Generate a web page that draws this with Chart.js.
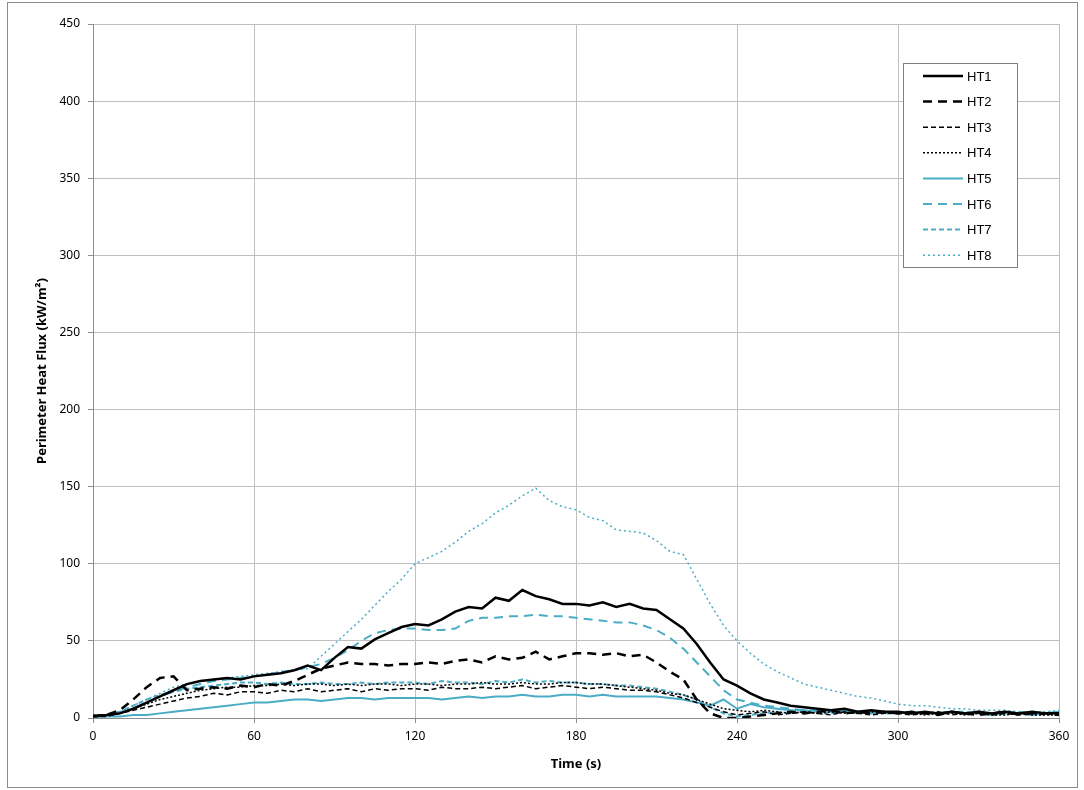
<!DOCTYPE html>
<html lang="en">
<head>
    <meta charset="UTF-8">
    <title>Perimeter Heat Flux</title>
</head>
<body style="margin: 0 0 0 0; background: #fff;">
    <div style="width:1084px; height:790px;">
        <canvas id="myChart" width="1084" height="790"></canvas>
    </div>

    <script src="https://cdn.jsdelivr.net/npm/chart.js@4.4.0/dist/chart.umd.min.js"></script>
    <script>
        // time axis, one reading every 5 s
        const times = [];
        for (let t = 0; t <= 360; t += 5) times.push(t);

        const ht1 = [1.5, 2, 3, 6, 10, 14, 18, 22, 24, 25, 26, 25,
            27, 28, 29, 31, 34, 31, 39, 46, 45, 51, 55, 59,
            61, 60, 64, 69, 72, 71, 78, 76, 83, 79, 77, 74,
            74, 73, 75, 72, 74, 71, 70, 64, 58, 48, 36, 25,
            21, 16, 12, 10, 8, 7, 6, 5, 6, 4, 5, 4,
            4, 3, 4, 3, 4, 3, 4, 3, 4, 3, 4, 3,
            3];
        const ht2 = [1, 2, 5, 12, 20, 26, 27, 18, 19, 20, 19, 21,
            20, 22, 21, 24, 28, 32, 34, 36, 35, 35, 34, 35,
            35, 36, 35, 37, 38, 36, 40, 38, 39, 43, 38, 40,
            42, 42, 41, 42, 40, 41, 36, 30, 25, 12, 3, 0,
            0, 1, 2, 3, 4, 3, 4, 5, 3, 4, 3, 4,
            3, 4, 3, 2, 4, 3, 2, 3, 4, 2, 3, 3,
            2];
        const ht3 = [1, 1, 3, 5, 7, 9, 11, 13, 14, 16, 15, 17,
            17, 16, 18, 17, 19, 17, 18, 19, 17, 19, 18, 19,
            19, 18, 20, 19, 19, 20, 19, 20, 21, 19, 20, 21,
            20, 19, 20, 19, 18, 18, 17, 15, 13, 10, 7, 4,
            2, 3, 4, 2, 3, 4, 3, 2, 4, 3, 2, 3,
            3, 2, 3, 4, 2, 3, 3, 2, 3, 2, 3, 2,
            3];
        const ht4 = [1, 2, 3, 6, 9, 12, 14, 16, 18, 19, 20, 20,
            21, 21, 22, 21, 22, 22, 21, 22, 21, 22, 22, 21,
            22, 22, 21, 22, 22, 23, 22, 22, 23, 22, 22, 23,
            23, 22, 22, 21, 20, 19, 18, 16, 15, 12, 9, 6,
            5, 4, 5, 4, 3, 4, 3, 4, 3, 3, 4, 3,
            3, 3, 2, 3, 3, 2, 3, 2, 2, 3, 2, 2,
            2];
        const ht5 = [1, 1, 1, 2, 2, 3, 4, 5, 6, 7, 8, 9,
            10, 10, 11, 12, 12, 11, 12, 13, 13, 12, 13, 13,
            13, 13, 12, 13, 14, 13, 14, 14, 15, 14, 14, 15,
            15, 14, 15, 14, 14, 14, 14, 13, 12, 10, 8, 12,
            6, 9, 7, 6, 5, 5, 4, 5, 4, 4, 3, 4,
            3, 4, 3, 3, 4, 3, 3, 2, 3, 3, 2, 3,
            4];
        const ht6 = [1, 1, 3, 6, 10, 14, 17, 20, 22, 24, 25, 26,
            27, 28, 30, 31, 33, 35, 39, 44, 50, 55, 57, 58,
            58, 57, 57, 58, 63, 65, 65, 66, 66, 67, 66, 66,
            65, 64, 63, 62, 62, 60, 57, 52, 45, 36, 27, 18,
            12, 10, 8, 7, 6, 5, 5, 4, 5, 4, 4, 3,
            3, 4, 3, 3, 4, 3, 4, 3, 3, 4, 3, 3,
            4];
        const ht7 = [1, 2, 4, 8, 12, 15, 17, 19, 20, 21, 22, 23,
            23, 22, 23, 22, 22, 23, 22, 22, 23, 22, 23, 23,
            23, 22, 24, 23, 23, 22, 24, 23, 25, 23, 24, 23,
            23, 22, 22, 21, 21, 20, 19, 17, 15, 12, 7, 3,
            1, 2, 3, 4, 3, 4, 4, 3, 4, 3, 4, 3,
            3, 4, 3, 3, 4, 4, 3, 3, 4, 3, 4, 3,
            3];
        const ht8 = [2, 2, 4, 8, 12, 16, 20, 22, 24, 25, 26, 27,
            28, 29, 30, 31, 32, 40, 48, 56, 64, 73, 82, 90,
            100, 104, 108, 114, 121, 126, 133, 138, 144, 149, 141, 137,
            135, 130, 128, 122, 121, 120, 115, 108, 106, 90, 74, 60,
            50, 42, 35, 30, 26, 22, 20, 18, 16, 14, 13, 11,
            9, 8, 8, 7, 6, 6, 5, 5, 5, 4, 4, 4,
            5];

        const xTicks = [0, 60, 120, 180, 240, 300, 360];
        const yMax = 450;

        const cyan = '#4BACC6';

        function pts(arr) {
            return arr.map((v, i) => ({ x: times[i], y: v }));
        }

        function ds(label, arr, color, width, dash) {
            return {
                label: label,
                data: pts(arr),
                borderColor: color,
                backgroundColor: color,
                borderWidth: width,
                borderDash: dash,
                pointRadius: 0,
                tension: 0,
                fill: false
            };
        }

        const datasets = [
            ds('HT1', ht1, '#000000', 2.5, []),
            ds('HT2', ht2, '#000000', 2.5, [9, 6]),
            ds('HT3', ht3, '#000000', 1.5, [5, 3]),
            ds('HT4', ht4, '#000000', 1.5, [2, 2]),
            ds('HT5', ht5, cyan, 2, []),
            ds('HT6', ht6, cyan, 2, [9, 6]),
            ds('HT7', ht7, cyan, 2, [5, 3]),
            ds('HT8', ht8, cyan, 1.5, [2, 3])
        ];

        // legend box inside the plot, plus the outer frame
        const boxLegend = {
            id: 'boxLegend',
            beforeDraw(chart) {
                const ctx = chart.ctx;
                ctx.save();
                ctx.strokeStyle = '#8c8c8c';
                ctx.lineWidth = 1;
                ctx.strokeRect(7.5, 2.5, 1070, 785);
                ctx.restore();
            },
            afterDraw(chart) {
                const ctx = chart.ctx;
                ctx.save();
                ctx.fillStyle = '#fff';
                ctx.fillRect(903, 63, 114, 204);
                ctx.strokeStyle = '#7f7f7f';
                ctx.lineWidth = 1;
                ctx.strokeRect(903.5, 63.5, 114, 204);
                ctx.font = '13px "Liberation Sans", Arial, sans-serif';
                ctx.textBaseline = 'middle';
                chart.data.datasets.forEach((d, i) => {
                    const y = 76 + i * 25.6;
                    ctx.beginPath();
                    ctx.setLineDash(d.borderDash);
                    ctx.strokeStyle = d.borderColor;
                    ctx.lineWidth = d.borderWidth;
                    ctx.moveTo(923, y);
                    ctx.lineTo(963, y);
                    ctx.stroke();
                    ctx.setLineDash([]);
                    ctx.fillStyle = '#000';
                    ctx.fillText(d.label, 967, y + 1);
                });
                ctx.restore();
            }
        };

        const config = {
            type: 'line',
            data: { datasets: datasets },
            options: {
                responsive: false,
                animation: false,
                layout: { padding: { top: 24, right: 25, bottom: 14, left: 30 } },
                plugins: {
                    legend: { display: false },
                    tooltip: { enabled: false }
                },
                scales: {
                    x: {
                        type: 'linear',
                        min: 0,
                        max: 360,
                        afterBuildTicks: (s) => { s.ticks = xTicks.map(v => ({ value: v })); },
                        afterFit: (s) => { s.height = 58; },
                        grid: { color: '#bfbfbf', lineWidth: 1, tickLength: 5, tickColor: '#8c8c8c' },
                        border: { color: '#8c8c8c' },
                        ticks: { color: '#000', font: { family: 'Noto Sans', size: 12 }, padding: 6, maxRotation: 0 },
                        title: { display: true, text: 'Time (s)', color: '#000', font: { family: 'Noto Sans', size: 13, weight: 'bold' }, padding: { top: 4 } }
                    },
                    y: {
                        min: 0,
                        max: yMax,
                        afterFit: (s) => { s.width = 63; },
                        grid: { color: '#bfbfbf', lineWidth: 1, tickLength: 5, tickColor: '#8c8c8c' },
                        border: { color: '#8c8c8c' },
                        ticks: { stepSize: 50, color: '#000', font: { family: 'Noto Sans', size: 12 }, padding: 8 },
                        title: { display: true, text: 'Perimeter Heat Flux (kW/m²)', color: '#000', font: { family: 'Noto Sans', size: 13, weight: 'bold' }, padding: { bottom: 4 } }
                    }
                }
            },
            plugins: [boxLegend]
        };

        const myChart = new Chart(document.getElementById('myChart'), config);
    </script>
</body>
</html>
